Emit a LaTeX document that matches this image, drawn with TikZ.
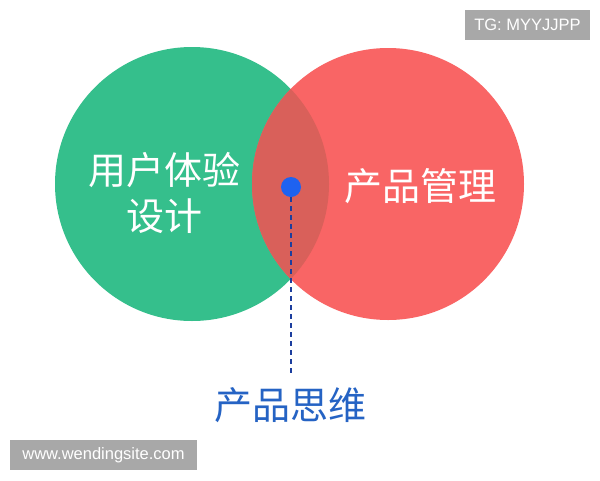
\documentclass[tikz,border=0pt]{standalone}
\usepackage{fontspec}
\setmainfont{Liberation Sans}
\newfontfamily\cjk{Noto Sans CJK SC}
\definecolor{vgreen}{HTML}{35BF8C}
\definecolor{vred}{HTML}{F96565}
\definecolor{vmix}{HTML}{D9605A}
\definecolor{vblue}{HTML}{1E62F0}
\definecolor{vdash}{HTML}{1C3E9E}
\definecolor{vtext}{HTML}{2563C4}
\definecolor{tagg}{HTML}{A8A8A8}
\tikzset{
  big/.style={font=\cjk\fontsize{38}{46}\selectfont, align=center, inner sep=0pt},
  tag/.style={fill=tagg, text=white, font=\fontsize{16.5}{18}\selectfont, inner sep=0pt, minimum height=30pt}
}
\begin{document}
\begin{tikzpicture}[x=1pt,y=-1pt]
\useasboundingbox (0,0) rectangle (600,480);
\fill[white] (0,0) rectangle (600,480);
\fill[vgreen] (192,184) circle (137);
\fill[vred] (388,184) circle (136);
\begin{scope}
\clip (192,184) circle (137);
\fill[vmix] (388,184) circle (136);
\end{scope}
\node[big, text=white] (ux) at (164,193) {用户体验\\设计};
\node[big, text=white] (pm) at (420,186) {产品管理};
\node[circle, fill=vblue, minimum size=20pt, inner sep=0pt] (dot) at (291,187) {};
\node[big, text=vtext] (pt) at (290,405) {产品思维};
\coordinate (dend) at (291,373);
\draw[vdash, line width=1.5pt, dash pattern=on 5pt off 4pt] (dot.south) -- (dend);
\node[tag, minimum width=125pt] (tg) at (527.5,25) {TG: MYYJJPP};
\node[tag, minimum width=187pt] (web) at (103.5,455) {www.wendingsite.com};
\end{tikzpicture}
\end{document}
